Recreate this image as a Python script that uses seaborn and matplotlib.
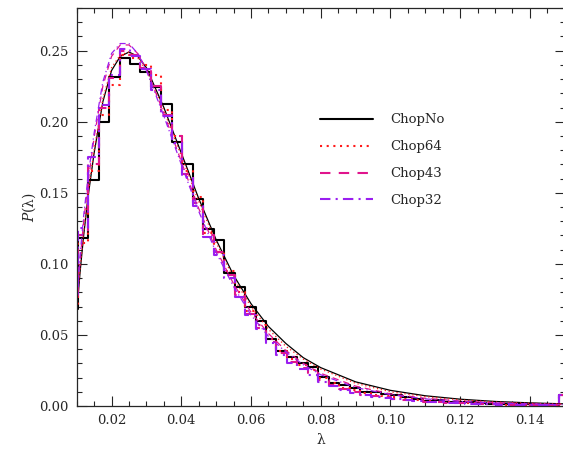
import numpy as np
import pandas as pd
import matplotlib
matplotlib.use("Agg")
import matplotlib.pyplot as plt
import seaborn as sns
from matplotlib.ticker import MultipleLocator, FormatStrFormatter

# ---------------- data ----------------
bin_left = np.round(0.0073 + 0.003 * np.arange(48), 4)
bin_width = 0.003

hist_chopno = [0.068, 0.118, 0.159, 0.1995, 0.2316, 0.2445, 0.2403, 0.2351, 0.2246, 0.2124,
               0.186, 0.170, 0.1454, 0.1242, 0.1167, 0.0933, 0.0839, 0.0698, 0.0598, 0.0471,
               0.0389, 0.0342, 0.0305, 0.0272, 0.0206, 0.0165, 0.0150, 0.0125, 0.0100, 0.0095,
               0.0085, 0.0080, 0.0065, 0.0050, 0.0037, 0.0040, 0.0030, 0.0028, 0.0026, 0.0020,
               0.0015, 0.0014, 0.0013, 0.0012, 0.0011, 0.0010, 0.0010, 0.0075]
hist_chop64 = [0.070, 0.115, 0.165, 0.205, 0.226, 0.247, 0.245, 0.240, 0.233, 0.208,
               0.190, 0.165, 0.147, 0.122, 0.108, 0.095, 0.080, 0.067, 0.057, 0.047,
               0.039, 0.033, 0.029, 0.025, 0.020, 0.016, 0.013, 0.011, 0.009, 0.008,
               0.007, 0.006, 0.005, 0.004, 0.0035, 0.003, 0.0025, 0.002, 0.002, 0.0015,
               0.0012, 0.0011, 0.0010, 0.0010, 0.0009, 0.0008, 0.0008, 0.0075]
hist_chop43 = [0.072, 0.120, 0.170, 0.210, 0.231, 0.250, 0.247, 0.238, 0.225, 0.205,
               0.190, 0.163, 0.143, 0.120, 0.108, 0.092, 0.078, 0.065, 0.055, 0.045,
               0.037, 0.031, 0.027, 0.023, 0.018, 0.015, 0.012, 0.010, 0.008, 0.007,
               0.006, 0.005, 0.0045, 0.004, 0.003, 0.0028, 0.0024, 0.002, 0.0018, 0.0015,
               0.0012, 0.0011, 0.0010, 0.0009, 0.0008, 0.0008, 0.0007, 0.0075]
hist_chop32 = [0.075, 0.125, 0.175, 0.212, 0.233, 0.251, 0.246, 0.237, 0.222, 0.204,
               0.185, 0.161, 0.141, 0.119, 0.106, 0.090, 0.077, 0.064, 0.054, 0.044,
               0.036, 0.030, 0.026, 0.022, 0.017, 0.014, 0.011, 0.009, 0.0075, 0.0065,
               0.0055, 0.005, 0.004, 0.0035, 0.003, 0.0025, 0.0022, 0.002, 0.0017, 0.0014,
               0.0012, 0.0010, 0.0009, 0.0009, 0.0008, 0.0007, 0.0007, 0.0075]

fit_x = [0.0100, 0.0110, 0.0120, 0.0133, 0.0150, 0.0175, 0.0200, 0.0225, 0.0250, 0.0275,
         0.0300, 0.0350, 0.0400, 0.0450, 0.0500, 0.0550, 0.0600, 0.0650, 0.0700, 0.0750,
         0.0800, 0.0900, 0.1000, 0.1100, 0.1200, 0.1300, 0.1400, 0.1500]
fit_chopno = [0.066, 0.095, 0.120, 0.148, 0.178, 0.214, 0.236, 0.246, 0.249, 0.246,
              0.238, 0.210, 0.178, 0.146, 0.117, 0.092, 0.072, 0.056, 0.044, 0.034,
              0.027, 0.017, 0.011, 0.0072, 0.0048, 0.0032, 0.0022, 0.0015]
fit_chop64 = [0.068, 0.097, 0.122, 0.150, 0.180, 0.216, 0.238, 0.247, 0.249, 0.245,
              0.236, 0.208, 0.176, 0.144, 0.115, 0.090, 0.070, 0.054, 0.042, 0.033,
              0.026, 0.016, 0.010, 0.0066, 0.0043, 0.0028, 0.0019, 0.0013]
fit_chop43 = [0.072, 0.103, 0.130, 0.158, 0.189, 0.225, 0.246, 0.254, 0.254, 0.248,
              0.237, 0.206, 0.172, 0.139, 0.110, 0.086, 0.066, 0.051, 0.039, 0.030,
              0.023, 0.014, 0.0085, 0.0054, 0.0035, 0.0023, 0.0015, 0.0010]
fit_chop32 = [0.075, 0.107, 0.134, 0.162, 0.192, 0.228, 0.248, 0.255, 0.255, 0.248,
              0.236, 0.204, 0.170, 0.137, 0.108, 0.084, 0.064, 0.049, 0.038, 0.029,
              0.022, 0.013, 0.0080, 0.0050, 0.0032, 0.0021, 0.0014, 0.0009]

labels = ["ChopNo", "Chop64", "Chop43", "Chop32"]
colors = ["#000000", "#ff1a1a", "#e0148c", "#9a1ef0"]
dashes = ["-", (0, (1, 2.2)), (0, (5, 4)), (0, (5, 2.5, 1, 2.5))]
hists = [hist_chopno, hist_chop64, hist_chop43, hist_chop32]
fits = [fit_chopno, fit_chop64, fit_chop43, fit_chop32]

# ---------------- plot ----------------
sns.set_style("ticks")
plt.rcParams["font.family"] = ["DejaVu Serif"]
plt.rcParams["mathtext.fontset"] = "dejavuserif"

fig = plt.figure(figsize=(5.63, 4.5), dpi=100)
ax = fig.add_axes([76.7 / 563, 44 / 450, 488 / 563, 398 / 450])

handles = []
for lab, col, ls, h, f in zip(labels, colors, dashes, hists, fits):
    edges = list(bin_left) + [bin_left[-1] + bin_width]
    vals = list(h) + [h[-1]]
    df = pd.DataFrame({"x": edges, "y": vals})
    sns.lineplot(data=df, x="x", y="y", ax=ax, color=col, linestyle=ls,
                 linewidth=1.5, drawstyle="steps-post", estimator=None, sort=False)
    dff = pd.DataFrame({"x": fit_x, "y": f})
    sns.lineplot(data=dff, x="x", y="y", ax=ax, color=col, linestyle=ls,
                 linewidth=0.9, estimator=None, sort=False)
    handles.append(plt.Line2D([], [], color=col, linestyle=ls, linewidth=1.5, label=lab))

ax.set_xlim(0.01, 0.15)
ax.set_ylim(0.0, 0.28)
ax.xaxis.set_major_locator(MultipleLocator(0.02))
ax.xaxis.set_minor_locator(MultipleLocator(0.005))
ax.yaxis.set_major_locator(MultipleLocator(0.05))
ax.yaxis.set_minor_locator(MultipleLocator(0.01))
ax.xaxis.set_major_formatter(FormatStrFormatter("%.2f"))
ax.yaxis.set_major_formatter(FormatStrFormatter("%.2f"))
ax.tick_params(which="both", direction="in", top=True, right=True, width=0.8,
               labelsize=9.5, pad=6)
ax.tick_params(which="major", length=7)
ax.tick_params(which="minor", length=3.5)
for s in ax.spines.values():
    s.set_linewidth(0.9)

ax.set_xlabel("λ", fontsize=10, labelpad=4)
ax.set_ylabel(r"$P$(λ)", fontsize=10, labelpad=1)

leg = ax.legend(handles=handles, loc="upper left", bbox_to_anchor=(0.4986, 0.735),
                frameon=False, fontsize=9.5, handlelength=4.0, handletextpad=1.3,
                labelspacing=1.05, borderpad=0, borderaxespad=0)

fig.savefig("out.png", dpi=100)
